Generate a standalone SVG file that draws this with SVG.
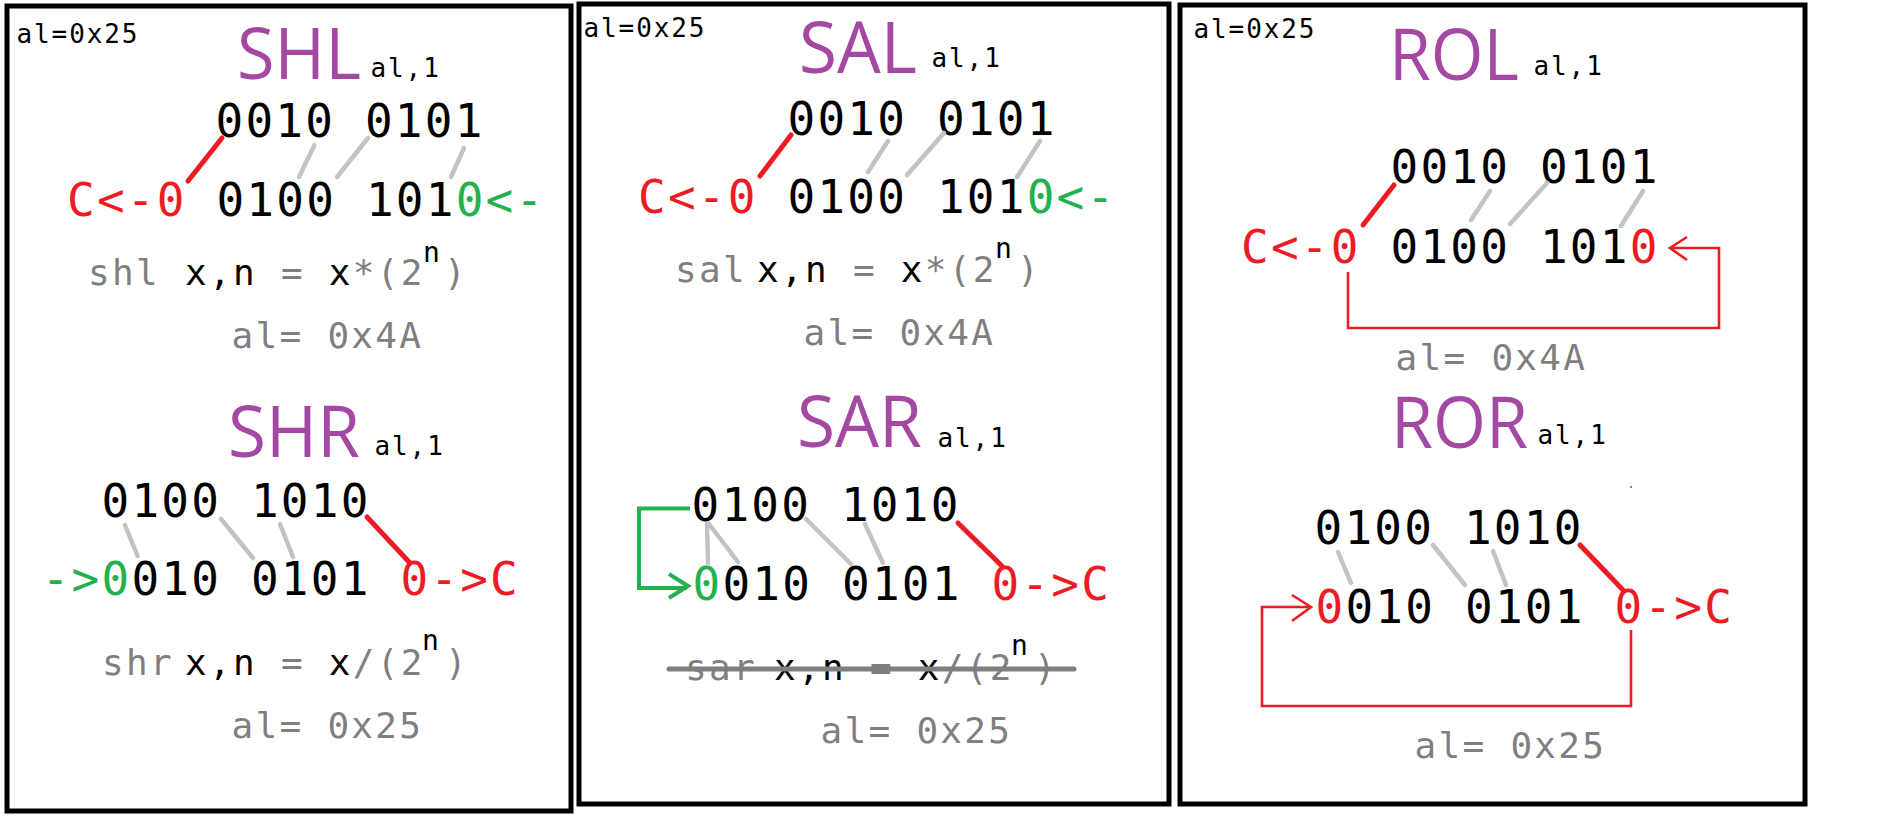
<svg xmlns="http://www.w3.org/2000/svg" width="1904" height="820" viewBox="0 0 1904 820">
<style>
.frame{fill:none;stroke:#000;stroke-width:5}
.title{font-family:"Open Sans","Noto Sans",sans-serif;font-size:71px;fill:#a349a4}
.big{font-family:"DejaVu Sans Mono",monospace;font-size:46px;letter-spacing:2.2px;fill:#000}
.mid{font-family:"DejaVu Sans Mono",monospace;font-size:36px;letter-spacing:2.3px;fill:#7f7f7f}
.sm{font-family:"DejaVu Sans Mono",monospace;font-size:26px;letter-spacing:1.9px;fill:#000}
.sup{font-family:"DejaVu Sans Mono",monospace;font-size:28px;fill:#000}
.r{fill:#ed1c24}.g{fill:#22b14c}.k{fill:#000}.gy{fill:#7f7f7f}
.gl{stroke:#c3c3c3;stroke-width:4.5;stroke-linecap:round;fill:none}
.rl{stroke:#ed1c24;stroke-width:5;stroke-linecap:round;fill:none}
.ra{stroke:#ed1c24;stroke-width:2.6;fill:none}
.ga{stroke:#22b14c;stroke-width:4;fill:none}
.strike{stroke:#7f7f7f;stroke-width:5;stroke-linecap:round}
</style>
<rect width="1904" height="820" fill="#fff"/>
<g id="frames">
<rect class="frame" x="7" y="6" width="564" height="805"/>
<rect class="frame" x="579" y="4" width="590" height="800"/>
<rect class="frame" x="1180" y="5" width="625" height="799"/>
</g>
<g id="shl">
<text class="sm" x="16.5" y="43">al=0x25</text>
<text class="title" x="237" y="79" textLength="124" lengthAdjust="spacingAndGlyphs">SHL</text>
<text class="sm" x="370.5" y="77">al,1</text>
<text class="big" x="215.5" y="137">0010 0101</text>
<text class="big" x="67" y="216"><tspan class="r">C&lt;-0</tspan> 0100 101<tspan class="g">0&lt;-</tspan></text>
<text class="mid" x="88" y="285">shl</text>
<text class="mid" x="185" y="285"><tspan class="k">x,n</tspan> = <tspan class="k">x</tspan>*(2</text>
<text class="sup" x="423" y="262">n</text>
<text class="mid" x="444" y="285">)</text>
<text class="mid" x="231.5" y="348">al= 0x4A</text>
</g>
<g id="shr">
<text class="title" x="228" y="457" textLength="132" lengthAdjust="spacingAndGlyphs">SHR</text>
<text class="sm" x="374.5" y="455">al,1</text>
<text class="big" x="101.5" y="517">0100 1010</text>
<text class="big" x="41.7" y="595"><tspan class="g">-&gt;0</tspan>010 0101 <tspan class="r">0-&gt;C</tspan></text>
<text class="mid" x="102" y="675">shr</text>
<text class="mid" x="185" y="675"><tspan class="k">x,n</tspan> = <tspan class="k">x</tspan>/(2</text>
<text class="sup" x="422" y="650">n</text>
<text class="mid" x="445" y="675">)</text>
<text class="mid" x="231.5" y="738">al= 0x25</text>
</g>
<g id="sal">
<text class="sm" x="583.5" y="37">al=0x25</text>
<text class="title" x="799" y="73" textLength="118" lengthAdjust="spacingAndGlyphs">SAL</text>
<text class="sm" x="931.5" y="67">al,1</text>
<text class="big" x="787.5" y="135">0010 0101</text>
<text class="big" x="638" y="213"><tspan class="r">C&lt;-0</tspan> 0100 101<tspan class="g">0&lt;-</tspan></text>
<text class="mid" x="675" y="282">sal</text>
<text class="mid" x="757" y="282"><tspan class="k">x,n</tspan> = <tspan class="k">x</tspan>*(2</text>
<text class="sup" x="995" y="258">n</text>
<text class="mid" x="1017" y="282">)</text>
<text class="mid" x="803.5" y="345">al= 0x4A</text>
</g>
<g id="sar">
<text class="title" x="797" y="447" textLength="125" lengthAdjust="spacingAndGlyphs">SAR</text>
<text class="sm" x="937.5" y="447">al,1</text>
<text class="big" x="691.5" y="521">0100 1010</text>
<text class="big" x="692.5" y="600"><tspan class="g">0</tspan>010 0101 <tspan class="r">0-&gt;C</tspan></text>
<text class="mid" x="685" y="680">sar</text>
<text class="mid" x="774" y="680"><tspan class="k">x,n</tspan> = <tspan class="k">x</tspan>/(2</text>
<text class="sup" x="1011" y="655">n</text>
<text class="mid" x="1034" y="680">)</text>
<line class="strike" x1="669" y1="669" x2="1074" y2="669"/>
<text class="mid" x="820.5" y="743">al= 0x25</text>
</g>
<g id="rol">
<text class="sm" x="1193.5" y="38">al=0x25</text>
<text class="title" x="1389" y="80" textLength="130" lengthAdjust="spacingAndGlyphs">ROL</text>
<text class="sm" x="1533.5" y="75">al,1</text>
<text class="big" x="1390.5" y="183">0010 0101</text>
<text class="big" x="1241" y="263"><tspan class="r">C&lt;-0</tspan> 0100 101<tspan class="r">0</tspan></text>
<text class="mid" x="1395.5" y="370">al= 0x4A</text>
</g>
<g id="ror">
<text class="title" x="1391" y="448" textLength="137" lengthAdjust="spacingAndGlyphs">ROR</text>
<text class="sm" x="1537.5" y="444">al,1</text>
<circle cx="1631" cy="487" r="1" fill="#555"/>
<text class="big" x="1314.5" y="544">0100 1010</text>
<text class="big" x="1315.5" y="623"><tspan class="r">0</tspan>010 0101 <tspan class="r">0-&gt;C</tspan></text>
<text class="mid" x="1414.5" y="758">al= 0x25</text>
</g>
<g id="connectors">
<line class="rl" x1="222" y1="138" x2="188" y2="181"/>
<line class="gl" x1="314.5" y1="145" x2="299" y2="177"/>
<line class="gl" x1="368" y1="138" x2="337" y2="177"/>
<line class="gl" x1="464" y1="148" x2="451" y2="177"/>
<line class="gl" x1="125" y1="525" x2="137.6" y2="556"/>
<line class="gl" x1="221" y1="519" x2="253" y2="558"/>
<line class="gl" x1="280" y1="524" x2="293" y2="557"/>
<line class="rl" x1="367" y1="517" x2="410" y2="563"/>
<line class="rl" x1="791" y1="135" x2="760" y2="176"/>
<line class="gl" x1="888" y1="141" x2="868" y2="172"/>
<line class="gl" x1="944" y1="133" x2="907" y2="175"/>
<line class="gl" x1="1040" y1="141" x2="1017" y2="177"/>
<line class="gl" x1="707" y1="524" x2="708" y2="563"/>
<line class="gl" x1="709" y1="524" x2="738" y2="562"/>
<line class="gl" x1="806" y1="519" x2="851" y2="564"/>
<line class="gl" x1="865" y1="524" x2="883" y2="563"/>
<line class="rl" x1="958" y1="523" x2="1002" y2="566"/>
<path class="ga" d="M690,508.5 H639 V588 H687"/>
<path class="ga" d="M669,574 L688,586 L669,598"/>
<line class="rl" x1="1394" y1="185" x2="1363" y2="225"/>
<line class="gl" x1="1490" y1="191" x2="1471" y2="220"/>
<line class="gl" x1="1547" y1="183" x2="1510" y2="224"/>
<line class="gl" x1="1643" y1="191" x2="1621" y2="226"/>
<path class="ra" d="M1348,272 V328 H1719 V248 H1670"/>
<path class="ra" d="M1687,237 L1670,248 L1687,260"/>
<line class="gl" x1="1338" y1="552" x2="1351" y2="583"/>
<line class="gl" x1="1433" y1="545" x2="1465" y2="585"/>
<line class="gl" x1="1493" y1="551" x2="1506" y2="585"/>
<line class="rl" x1="1580" y1="545" x2="1623" y2="590"/>
<path class="ra" d="M1631,630 V706 H1262 V607 H1311"/>
<path class="ra" d="M1292,595 L1311,607 L1292,621"/>
</g>
</svg>
